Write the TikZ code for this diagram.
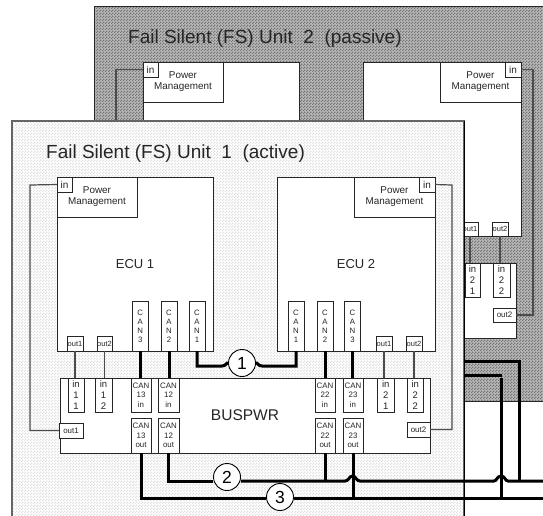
\documentclass[tikz,border=0pt]{standalone}
\usepackage{fontspec}
\usetikzlibrary{patterns}
\setmainfont{Liberation Sans}
\definecolor{backfill}{gray}{0.72}
\definecolor{backdot}{gray}{0.46}
\definecolor{frontdot}{gray}{0.88}
\definecolor{edge}{gray}{0.15}
\pgfdeclarepatternformonly{dither}{\pgfpointorigin}{\pgfqpoint{3pt}{3pt}}{\pgfqpoint{3pt}{3pt}}{%
  \pgfpathrectangle{\pgfpointorigin}{\pgfqpoint{1.5pt}{1.5pt}}%
  \pgfpathrectangle{\pgfqpoint{1.5pt}{1.5pt}}{\pgfqpoint{1.5pt}{1.5pt}}%
  \pgfusepath{fill}}
\newcommand\bx[6][]{%
  \pgfmathsetmacro\bxw{#5-#3}\pgfmathsetmacro\bxh{#6-#4}%
  \pgfmathsetmacro\bxx{(#3+#5)/2}\pgfmathsetmacro\bxy{(#4+#6)/2}%
  \node[box,minimum width=\bxw pt,minimum height=\bxh pt,#1] (#2) at (\bxx,\bxy)}
\tikzset{
  box/.style={draw=edge,line width=0.9pt,fill=white,inner sep=0pt,outer sep=0pt,align=center,text=black!85,font=\fontsize{8}{9.3}\selectfont},
  pm/.style={font=\fontsize{9.9}{11}\selectfont},
  plain/.style={font=\fontsize{13}{14}\selectfont},
  lab/.style={font=\fontsize{7.9}{9.4}\selectfont},
  canv/.style={font=\fontsize{7.8}{9.1}\selectfont},
  tiny/.style={font=\fontsize{7.5}{9}\selectfont},
  stackin/.style={font=\fontsize{9.5}{11}\selectfont},
  inbox/.style={font=\fontsize{10}{10}\selectfont},
  unitbox/.style={draw=edge,line width=0.9pt,inner sep=0pt,outer sep=0pt},
  backunit/.style={preaction={fill=backfill,draw=none},pattern=dither,pattern color=backdot},
  frontunit/.style={preaction={fill=white,draw=none},pattern=dither,pattern color=frontdot},
  thin wire/.style={draw=black!70,line width=1.2pt},
  bus/.style={draw=black,line width=3pt},
  tag/.style={circle,draw=black,line width=0.9pt,fill=white,minimum size=27pt,inner sep=0pt,font=\fontsize{17.5}{18}\selectfont},
  unittitle/.style={anchor=base west,inner sep=0pt,text=black!85,font=\fontsize{19}{21}\selectfont},
}
\begin{document}
\begin{tikzpicture}[x=1pt,y=-1pt]
\useasboundingbox (0,0) rectangle (543,515);
\clip (0,0) rectangle (543,515);
% ---- back unit
\bx[unitbox,backunit]{unitB}{94}{6}{560}{401} {};
\node[unittitle] (titleB) at (128,43) {Fail Silent (FS) Unit\ \ 2\ \ (passive)};
\bx{ecuBa}{143}{62}{299}{150} {};
\bx{ecuBb}{363}{62}{521}{236} {};
\bx[pm]{pmBa}{143}{62}{223}{102} {Power\\Management};
\bx[pm]{pmBb}{440}{62}{521}{102} {Power\\Management};
\bx[inbox]{inBa}{143}{62}{158}{77} {in};
\bx[inbox]{inBb}{505}{62}{521}{77} {in};
\bx[tiny]{outBa}{462}{222}{478}{236} {out1};
\bx[tiny]{outBb}{492}{222}{508}{236} {out2};
\bx{busB}{440}{263}{516}{338} {};
\bx[stackin]{inBc}{465}{263}{480}{297} {in\\2\\1};
\bx[stackin]{inBd}{493}{263}{510}{297} {in\\2\\2};
\bx[lab]{outBc}{493}{308}{516}{322} {out2};
\coordinate (hiddenA) at (116,130);
\draw[thin wire] (inBa.west) -| (hiddenA);
\draw[thin wire] (inBb.east) -- ++(12,0) |- (outBc.east);
\draw[thin wire] (outBa.south) -- (outBa.south |- inBc.north);
\draw[thin wire] (outBb.south) -- (outBb.south |- inBd.north);
% ---- front unit
\bx[unitbox,frontunit,draw=black!60,line width=1.3pt]{unitA}{12}{121}{464}{530} {};
\draw[black,line width=0.9pt] (unitA.north east) -- (unitA.south east);
\node[unittitle] (titleA) at (46,158) {Fail Silent (FS) Unit\ \ 1\ \ (active)};
\bx[plain]{ecuA}{57}{177}{213}{351} {ECU 1};
\bx[plain]{ecuC}{277}{177}{435}{351} {ECU 2};
\bx[pm]{pmA}{57}{177}{137}{217} {Power\\Management};
\bx[pm]{pmC}{354}{177}{435}{217} {Power\\Management};
\bx[inbox]{inA}{57}{177}{72}{192} {in};
\bx[inbox]{inC}{419}{177}{435}{192} {in};
\bx[canv]{canA}{132.5}{301}{148}{351} {C\\A\\N\\3};
\bx[canv]{canB}{161}{301}{177}{351} {C\\A\\N\\2};
\bx[canv]{canC}{189}{301}{205}{351} {C\\A\\N\\1};
\bx[canv]{canD}{288}{301}{304}{351} {C\\A\\N\\1};
\bx[canv]{canE}{317}{301}{333}{351} {C\\A\\N\\2};
\bx[canv]{canF}{344.5}{301}{360.5}{351} {C\\A\\N\\3};
\bx[tiny]{outA}{67}{336}{83}{351} {out1};
\bx[tiny]{outB}{97}{336}{112}{351} {out2};
\bx[tiny]{outC}{376}{336}{392}{351} {out1};
\bx[tiny]{outD}{406}{336}{422}{351} {out2};
\bx[font=\fontsize{15.5}{17}\selectfont]{bus}{60}{378}{430}{453} {BUSPWR};
\bx[stackin]{inD}{68}{378}{84}{412} {in\\1\\1};
\bx[stackin]{inE}{95}{378}{112}{412} {in\\1\\2};
\bx[stackin]{inF}{377.5}{378}{394}{412} {in\\2\\1};
\bx[stackin]{inG}{407}{378}{423.5}{412} {in\\2\\2};
\bx[lab]{cA}{131}{378}{151}{412} {CAN\\13\\in};
\bx[lab]{cB}{158}{378}{179}{412} {CAN\\12\\in};
\bx[lab]{cC}{315}{378}{335}{412} {CAN\\22\\in};
\bx[lab]{cD}{343}{378}{363}{412} {CAN\\23\\in};
\bx[lab]{dA}{131}{418}{151}{453} {CAN\\13\\out};
\bx[lab]{dB}{158}{418}{179}{453} {CAN\\12\\out};
\bx[lab]{dC}{315}{418}{335}{453} {CAN\\22\\out};
\bx[lab]{dD}{343}{418}{363}{453} {CAN\\23\\out};
\bx[lab]{outE}{59}{423}{83}{438} {out1};
\bx[lab]{outF}{407}{422}{430}{437} {out2};
\draw[thin wire] (inA.west) -- (30,185) |- (outE.west);
\draw[thin wire] (inC.east) -- (452,185) |- (outF.east);
\foreach \a/\b in {outA/inD,outB/inE,outC/inF,outD/inG}
  \draw[thin wire] (\a.south) -- (\a.south |- \b.north);
\foreach \a/\b in {canA/cA,canB/cB,canE/cC,canF/cD}
  \draw[bus] (\a.south) -- (\a.south |- \b.north);
% ---- buses
\coordinate (railA) at (464,361);
\coordinate (railB) at (464,375);
\coordinate (exitB) at (545,481);
\coordinate (exitC) at (545,498);
\node[tag] (one) at (242,363) {1};
\node[tag] (two) at (227,477) {2};
\node[tag] (three) at (280,497) {3};
\draw[bus] (canC.south) |- (222,366) .. controls (226,366) and (227,362) .. (one.west);
\draw[bus] (canD.south) |- (262,366) .. controls (258,366) and (257,362) .. (one.east);
\draw[bus] (dB.south) |- (two.west |- exitB);
\draw[bus] (two.east |- exitB) -- (345,481)
   .. controls (349,481) and (349,476) .. (352.5,476)
   .. controls (356,476) and (356,481) .. (360,481) -- (494,481)
   .. controls (497,481) and (497,476) .. (501,476)
   .. controls (505,476) and (505,481) .. (508,481) -- (exitB);
\draw[bus] (dA.south) |- (three.west |- exitC);
\draw[bus] (three.east |- exitC) -- (exitC);
\draw[bus] (dC.south) -- (dC.south |- exitB);
\draw[bus] (dD.south) -- (dD.south |- exitC);
\draw[bus] (501,498) -- (501,378);
\draw[bus] (railB) -- (502,375);
\draw[bus] (railA) -| (519,481);
\end{tikzpicture}
\end{document}
